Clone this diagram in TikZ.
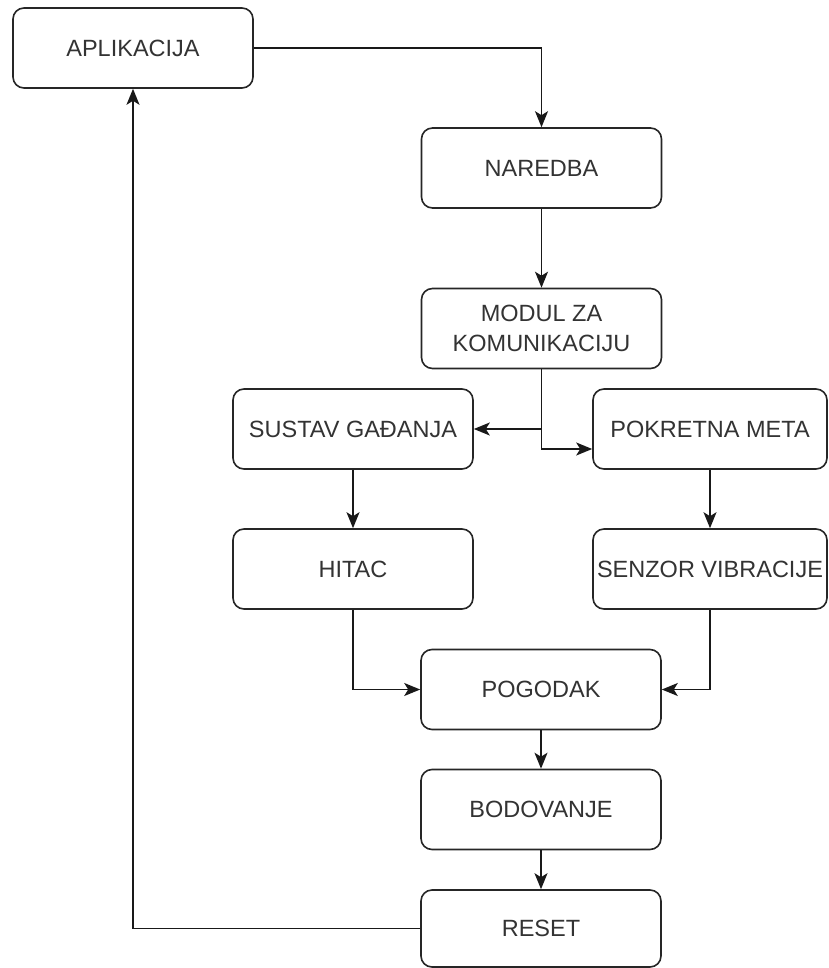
\documentclass[tikz,border=0pt]{standalone}
\usepackage{fontspec}
\setmainfont{Liberation Sans}
\usetikzlibrary{arrows.meta}
\definecolor{txt}{HTML}{333333}
\tikzset{
  box/.style={draw=black!85, line width=1.6pt, rounded corners=11pt, fill=white,
    minimum width=240pt, minimum height=80pt, inner sep=0pt, align=center,
    text=txt, font=\fontsize{23.5pt}{30pt}\selectfont},
  conn/.style={draw=black!90, line width=1.6pt,
    -{Stealth[length=16pt,width=13pt,inset=4pt]}}
}
\begin{document}
\begin{tikzpicture}[x=1pt,y=-1pt]
\useasboundingbox (0,0) rectangle (828,968);
\node[box] (apl) at (133,48) {APLIKACIJA};
\node[box] (nar) at (541.5,168) {NAREDBA};
\node[box] (mod) at (541.5,328.5) {MODUL ZA\\KOMUNIKACIJU};
\node[box] (sus) at (353,429) {SUSTAV GAĐANJA};
\node[box, minimum width=234pt] (pok) at (710,429) {POKRETNA META};
\node[box] (hit) at (353,569) {HITAC};
\node[box, minimum width=234pt] (sen) at (710,569) {SENZOR VIBRACIJE};
\node[box] (pog) at (541,689.5) {POGODAK};
\node[box] (bod) at (541,809.5) {BODOVANJE};
\node[box, minimum height=77pt] (res) at (541,928.5) {RESET};

\draw[conn] (apl.east) -| (nar.north);
\draw[conn] (nar.south) -- (mod.north);
\draw[conn] (mod.south) |- (sus.east);
\draw[conn] (mod.south) |- ([yshift=-20pt]pok.west);
\draw[conn] (sus.south) -- (hit.north);
\draw[conn] (pok.south) -- (sen.north);
\draw[conn] (hit.south) |- (pog.west);
\draw[conn] (sen.south) |- (pog.east);
\draw[conn] (pog.south) -- (bod.north);
\draw[conn] (bod.south) -- (res.north);
\draw[conn] (res.west) -| (apl.south);
\end{tikzpicture}
\end{document}
